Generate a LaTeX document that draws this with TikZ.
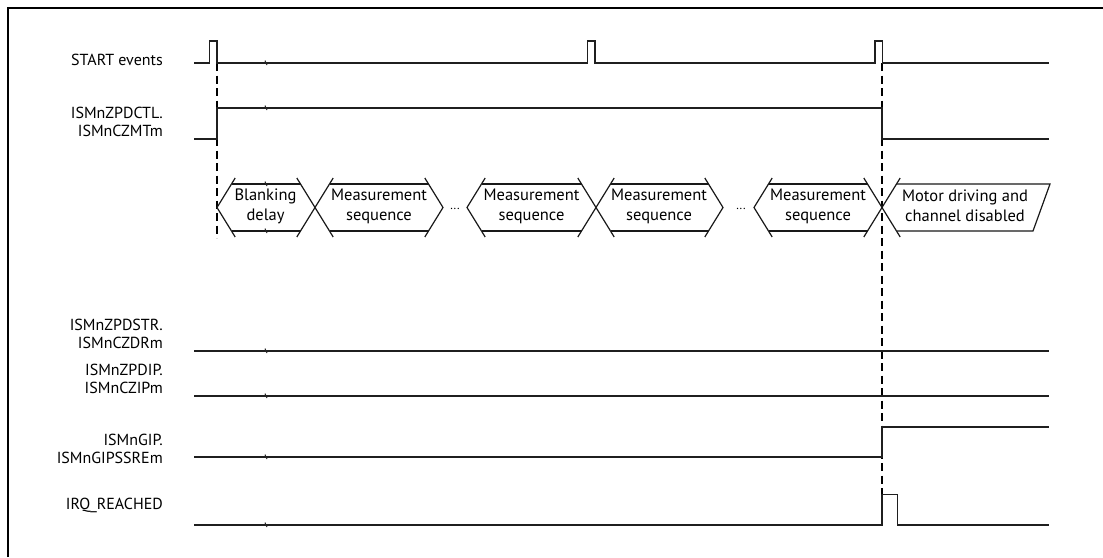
\documentclass[tikz,border=0pt]{standalone}
\usepackage{fontspec}
\setmainfont{PT Sans}
\begin{document}
\begin{tikzpicture}[x=1pt,y=-1pt,
  sig/.style={line width=1.3pt, color=black!88, line join=miter},
  bus/.style={line width=1.2pt, color=black!90, line join=miter},
  guide/.style={line width=1.3pt, color=black, dash pattern=on 8pt off 4.5pt},
  frame/.style={line width=2pt, color=black},
  lbl/.style={anchor=east, align=right, font=\fontsize{16}{18}\selectfont, inner sep=0pt},
  bustxt/.style={align=center, font=\fontsize{16.5}{20}\selectfont, inner sep=0pt},
  dots/.style={font=\fontsize{12}{12}\selectfont, inner sep=0pt}]
\useasboundingbox (0,0) rectangle (1103,557);
\fill[white] (0,0) rectangle (1103,557);
% frame (only top and left edges fall inside the picture)
\draw[frame] (8,557) -- (8,8) -- (1103,8);

% break mark macro
\newcommand\brk[2]{\draw[line width=1pt, color=black!85] (#1-1,#2-2.5) -- (#1-0.3,#2-0.5) -- (#1+0.3,#2+0.5) -- (#1+1,#2+2);}

% labels
\node[lbl] (lstart) at (163,60) {START events};
\node[lbl] (lctl) at (163,122) {ISMnZPDCTL.\\ISMnCZMTm};
\node[lbl] (lstr) at (163,334) {ISMnZPDSTR.\\ISMnCZDRm};
\node[lbl] (lip) at (163,379) {ISMnZPDIP.\\ISMnCZIPm};
\node[lbl] (lgip) at (163,448.5) {ISMnGIP.\\ISMnGIPSSREm};
\node[lbl] (lirq) at (163,505) {IRQ\_REACHED};

% guide lines
\draw[guide] (217,63) -- (217,238);
\draw[guide] (882,63) -- (882,494);

% START events
\draw[sig] (194,63) -- (209.5,63) -- (209.5,41) -- (217,41) -- (217,63) -- (587.5,63) -- (587.5,41)
  -- (595,41) -- (595,63) -- (875,63) -- (875,41) -- (882.5,41) -- (882.5,63) -- (1049,63);
\brk{266}{63}
% ISMnZPDCTL
\draw[sig] (194,139) -- (217,139) -- (217,108) -- (882,108) -- (882,139) -- (1049,139);
\brk{266}{108}
% ISMnZPDSTR
\draw[sig] (194,351) -- (1049,351);
\brk{266}{351}
% ISMnZPDIP
\draw[sig] (194,396) -- (1049,396);
\brk{266}{396}
% ISMnGIP
\draw[sig] (194,457) -- (882,457) -- (882,427) -- (1049,427);
\brk{266}{457}
% IRQ
\draw[sig] (194,525) -- (882,525) -- (882,494.5) -- (897.5,494.5) -- (897.5,525) -- (1049,525);
\brk{266}{525}

% bus row: top 184, bottom 231, middle 207.5; diagonal half width 14.5, extension 6px
\def\yt{184}\def\yb{231}\def\ym{207.5}
% left tips "<"
\foreach \t in {217,467,754}{
  \draw[bus] (\t+18.2,\yt-6) -- (\t,\ym) -- (\t+18.2,\yb+6);
}
% right tips ">"
\foreach \t in {443,723}{
  \draw[bus] (\t-18.2,\yt-6) -- (\t,\ym) -- (\t-18.2,\yb+6);
}
% crossings X
\foreach \c in {315,596,882}{
  \draw[bus] (\c-18.2,\yt-6) -- (\c+18.2,\yb+6);
  \draw[bus] (\c-18.2,\yb+6) -- (\c+18.2,\yt-6);
}
% horizontal edges
\foreach \a/\b in {231.5/300.5, 329.5/428.5, 481.5/581.5, 610.5/708.5, 768.5/867.5}{
  \draw[bus] (\a,\yt) -- (\b,\yt);
  \draw[bus] (\a,\yb) -- (\b,\yb);
}
\draw[bus] (896.5,\yt) -- (1050,\yt) -- (1033,\yb) -- (896.5,\yb);
\brk{266}{184}
\brk{266}{231}

% bus texts
\node[bustxt] (tblank) at (265.5,206) {Blanking\\delay};
\node[bustxt] (tm1) at (379,206) {Measurement\\sequence};
\node[bustxt] (tm2) at (531.5,206) {Measurement\\sequence};
\node[bustxt] (tm3) at (659,206) {Measurement\\sequence};
\node[bustxt] (tm4) at (818,206) {Measurement\\sequence};
\node[bustxt] (tmot) at (965,206) {Motor driving and\\channel disabled};
\node[dots] (d1) at (455,209) {...};
\node[dots] (d2) at (741,209) {...};
\end{tikzpicture}
\end{document}
